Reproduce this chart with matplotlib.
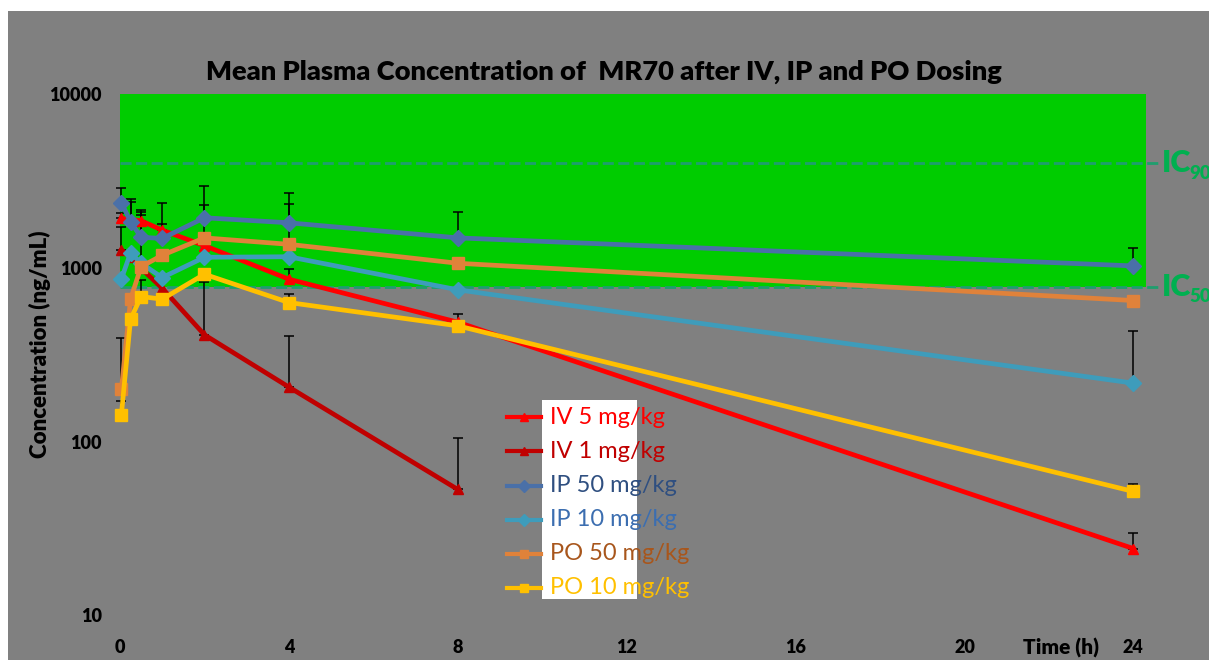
import numpy as np
import matplotlib
matplotlib.use("Agg")
import matplotlib.pyplot as plt
from matplotlib.patches import Rectangle
from matplotlib.lines import Line2D

# ---- data -------------------------------------------------------------
time_h = [0.033, 0.25, 0.5, 1, 2, 4, 8, 24]

iv5_mean = [1930, 1900, 1870, 1650, 1344, 861, 487, 24.2]
iv5_upper = [2065, 2386, 2090, 1790, np.nan, 992, 545, 29.9]

iv1_time = [0.033, 0.25, 0.5, 1, 2, 4, 8]
iv1_mean = [1270, 1150, 995, 764, 412, 206, 53]
iv1_upper = [1714, np.nan, np.nan, np.nan, 828, 408, 105]

ip50_mean = [2370, 1845, 1500, 1480, 1945, 1820, 1490, 1027]
ip50_upper = [2870, 2485, 2154, 2354, 2972, 2687, 2108, 1298]

ip10_mean = [865, 1220, 1064, 880, 1152, 1160, 748, 217]
ip10_upper = [np.nan, np.nan, 2017, np.nan, 2301, 2322, np.nan, 431]

po50_mean = [200, 661, 1017, 1183, 1490, 1368, 1064, 649]
po50_upper = [394, np.nan, np.nan, np.nan, np.nan, np.nan, np.nan, np.nan]

po10_mean = [143, 507, 684, 661, 920, 632, 464, 51.6]
po10_upper = [171, np.nan, 853, np.nan, np.nan, 706, np.nan, 57]

series_labels = ["IV 5 mg/kg", "IV 1 mg/kg", "IP 50 mg/kg",
                 "IP 10 mg/kg", "PO 50 mg/kg", "PO 10 mg/kg"]

ic50 = 780
ic90 = 4000
x_ticks = [0, 4, 8, 12, 16, 20, 24]
y_ticks = [10, 100, 1000, 10000]

# ---- styling ----------------------------------------------------------
W, H = 1209, 660
BG = "#808080"
GREEN = "#00CC00"
IC_COLOR = "#00B050"
IC_LINE = "#1E9E6E"
HEAVY = "heavy"

styles = [
    dict(color="#FF0000", marker="^", ms=7, text="#FF0000"),
    dict(color="#C00000", marker="^", ms=7, text="#C00000"),
    dict(color="#4A70A8", marker="D", ms=8.5, text="#2F4F80"),
    dict(color="#3E9CBB", marker="D", ms=8.5, text="#3C6EB0"),
    dict(color="#E0823A", marker="s", ms=8, text="#A8561C"),
    dict(color="#FFC000", marker="s", ms=8, text="#FFC000"),
]

FONT = ["Lato", "DejaVu Sans"]
plt.rcParams["font.family"] = FONT

fig = plt.figure(figsize=(W / 100, H / 100), dpi=100, facecolor="white")

# gray panel behind everything
fig.patches.append(Rectangle((8 / W, 0), 1 - 8 / W, 1 - 11 / H,
                             transform=fig.transFigure, facecolor=BG,
                             edgecolor="none", zorder=-10))


def fx(px):
    return px / W


def fy(py):
    return 1 - py / H


ax_left, ax_right, ax_top, ax_bot = 120, 1146, 94.3, 615.2
ax = fig.add_axes([fx(ax_left), fy(ax_bot), fx(ax_right) - fx(ax_left),
                   fy(ax_top) - fy(ax_bot)])
ax.set_facecolor(BG)
ax.set_yscale("log")
ax.set_xlim(0, 24.3)
ax.set_ylim(10, 10000)
for s in ax.spines.values():
    s.set_visible(False)

# target band between IC50 and the top of the axis
ax.axhspan(ic50, 10000, xmin=0, xmax=1, color=GREEN, zorder=0.5, lw=0)

# IC lines, extending beyond the plotting area
for lvl in (ic50, ic90):
    ax.plot([0, 24.65], [lvl, lvl], color=IC_LINE, lw=2,
            dashes=(4, 1.6), clip_on=False, zorder=1)

all_series = [
    (time_h, iv5_mean, iv5_upper),
    (iv1_time, iv1_mean, iv1_upper),
    (time_h, ip50_mean, ip50_upper),
    (time_h, ip10_mean, ip10_upper),
    (time_h, po50_mean, po50_upper),
    (time_h, po10_mean, po10_upper),
]

# error bars (upper side only)
for t, m, u in all_series:
    t = np.array(t, float)
    m = np.array(m, float)
    u = np.array(u, float)
    ok = ~np.isnan(u)
    err = np.vstack([np.zeros(ok.sum()), u[ok] - m[ok]])
    ax.errorbar(t[ok], m[ok], yerr=err, fmt="none", ecolor="black",
                elinewidth=1.1, capsize=3.5, capthick=1.1, zorder=2,
                clip_on=False)

# series lines
for i, (t, m, _) in enumerate(all_series):
    st = styles[i]
    ax.plot(t, m, color=st["color"], lw=3.4, marker=st["marker"],
            ms=st["ms"], mec=st["color"], mfc=st["color"], zorder=3 + i * 0.1,
            clip_on=False)

# ticks
ax.set_xticks(x_ticks)
ax.set_xticklabels([str(v) for v in x_ticks])
ax.set_yticks(y_ticks)
ax.set_yticklabels([str(v) for v in y_ticks])
ax.yaxis.set_minor_locator(matplotlib.ticker.NullLocator())
ax.tick_params(axis="both", length=0, labelsize=13, labelcolor="black")
ax.tick_params(axis="x", pad=17)
ax.tick_params(axis="y", pad=13)
for lab in ax.get_xticklabels() + ax.get_yticklabels():
    lab.set_fontweight(HEAVY)

# titles
fig.text(fx(604), fy(72), "Mean Plasma Concentration of  MR70 after IV, IP and PO Dosing",
         ha="center", va="center", fontsize=19.6, fontweight=HEAVY,
         color="black")
fig.text(fx(40), fy(344), "Concentration (ng/mL)", rotation=90,
         ha="center", va="center", fontsize=16, fontweight=HEAVY,
         color="black")
fig.text(fx(1061), fy(648), "Time (h)", ha="center", va="center",
         fontsize=15, fontweight=HEAVY, color="black")

# IC labels
for lvl, sub, py in ((ic90, "90", 163), (ic50, "50", 287)):
    fig.text(fx(1162), fy(py), "IC", ha="left", va="center",
             fontsize=22, fontweight=HEAVY, color=IC_COLOR)
    fig.text(fx(1189), fy(py + 10), sub, ha="left", va="center",
             fontsize=13.5, fontweight=HEAVY, color=IC_COLOR)

# legend: white box, handles to its left, text overflowing on the right
fig.patches.append(Rectangle((fx(542), fy(599)), fx(637) - fx(542),
                             fy(400) - fy(599), transform=fig.transFigure,
                             facecolor="white", edgecolor="none", zorder=5))
row_y = [417, 451, 486, 520, 554, 588]
for i, (lab, py) in enumerate(zip(series_labels, row_y)):
    st = styles[i]
    fig.add_artist(Line2D([fx(507), fx(541)], [fy(py), fy(py)],
                          transform=fig.transFigure, color=st["color"],
                          lw=3.0, zorder=6))
    fig.add_artist(Line2D([fx(524)], [fy(py)], transform=fig.transFigure,
                          marker=st["marker"], ms=st["ms"] * 0.75,
                          color=st["color"], lw=0, zorder=6))
    fig.text(fx(550), fy(py), lab, ha="left", va="center", fontsize=17,
             color=st["text"], zorder=7)

fig.savefig("out.png", dpi=100, facecolor="white")
